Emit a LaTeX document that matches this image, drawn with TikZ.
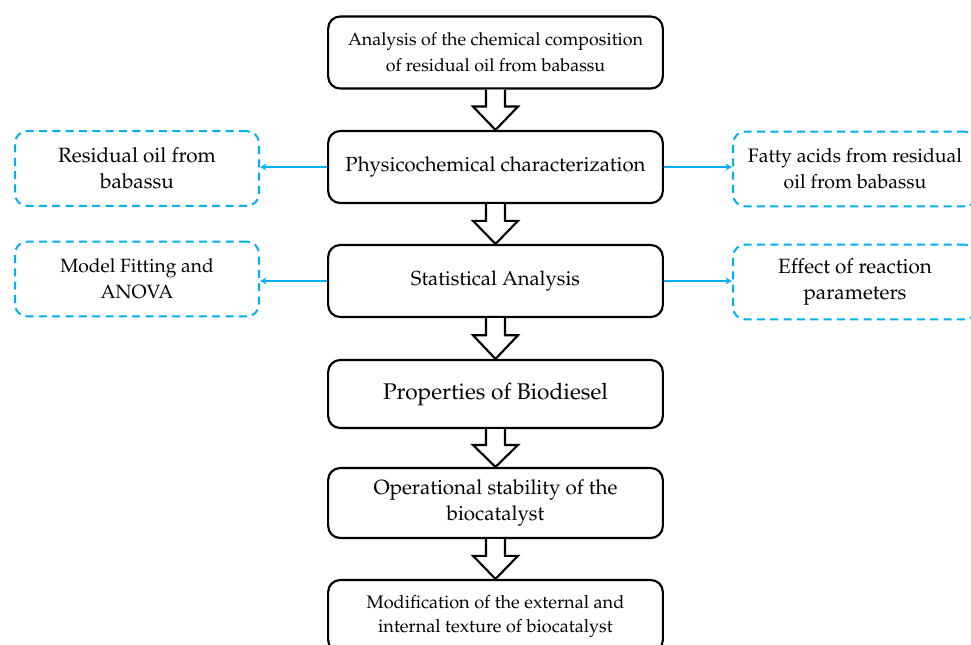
\documentclass[tikz,border=0pt]{standalone}
\usepackage[T1]{fontenc}
\usepackage{mathpazo}
\usetikzlibrary{calc,arrows.meta}

\definecolor{skyblue}{RGB}{0,176,240}

\tikzset{
    mainbox/.style={draw=black, line width=1.6pt, rounded corners=9pt, align=center,
        minimum width=251pt, minimum height=54pt, inner sep=2pt},
    sidebox/.style={draw=skyblue, line width=1.5pt, dash pattern={on 6pt off 4pt},
        rounded corners=9pt, align=center, minimum width=183pt, minimum height=56pt},
    hollow/.style={draw=black, line width=1.6pt, fill=white, line join=miter},
    sidearrow/.style={draw=skyblue, line width=1.2pt, -{Stealth[length=5pt,width=5pt]}},
}

% hollow arrow from the bottom of one box to the top of the next
\newcommand{\flowarrow}[2]{%
    \draw[hollow] ($(#1.south)+(-9.5,0)$) -- ($(#1.south)!0.42!(#2.north)+(-9.5,0)$) -- ++(-13,0)
        -- (#2.north) -- ($(#1.south)!0.42!(#2.north)+(22.5,0)$) -- ++(-13,0) -- ($(#1.south)+(9.5,0)$);}

\begin{document}
\begin{tikzpicture}[x=0.75pt,y=0.75pt,yscale=-1,xscale=1]
    \useasboundingbox (0,0) rectangle (971,644);
    \clip (0,0) rectangle (971,644);

    % Main column
    \node[mainbox, font=\fontsize{13.4}{19.5}\selectfont] (chem) at (495.5,52.5) {Analysis of the chemical composition\\ of residual oil from babassu};
    \node[mainbox, font=\fontsize{15.3}{19.5}\selectfont] (phys) at (495.5,167) {Physicochemical characterization};
    \node[mainbox, font=\fontsize{15.2}{19.5}\selectfont] (stat) at (495.5,281) {Statistical Analysis};
    \node[mainbox, minimum height=51pt, font=\fontsize{17}{20}\selectfont] (prop) at (495.5,394) {Properties of Biodiesel};
    \node[mainbox, minimum height=52.5pt, font=\fontsize{15.4}{19.5}\selectfont] (oper) at (495.5,503) {Operational stability of the\\ biocatalyst};
    \node[mainbox, font=\fontsize{13.6}{18}\selectfont] (modi) at (495.5,616) {Modification of the external and\\ internal texture of biocatalyst};

    % Side boxes
    \node[sidebox, font=\fontsize{15.5}{19.5}\selectfont] (resid) at (137,168.5) {Residual oil from\\ babassu};
    \node[sidebox, font=\fontsize{14.4}{19.5}\selectfont] (model) at (137,279) {Model Fitting and\\ ANOVA};
    \node[sidebox, font=\fontsize{14.6}{19.5}\selectfont] (fatty) at (855,169) {Fatty acids from residual\\ oil from babassu};
    \node[sidebox, font=\fontsize{15.5}{19.5}\selectfont] (effect) at (855,282) {Effect of reaction\\ parameters};

    % Hollow arrows
    \flowarrow{chem}{phys}
    \flowarrow{phys}{stat}
    \flowarrow{stat}{prop}
    \flowarrow{prop}{oper}
    \flowarrow{oper}{modi}

    % Blue arrows
    \draw[sidearrow] (phys.west) -- (phys.west -| resid.east);
    \draw[sidearrow] (phys.east) -- (phys.east -| fatty.west);
    \draw[sidearrow] (stat.west) -- (stat.west -| model.east);
    \draw[sidearrow] (stat.east) -- (stat.east -| effect.west);

\end{tikzpicture}
\end{document}
